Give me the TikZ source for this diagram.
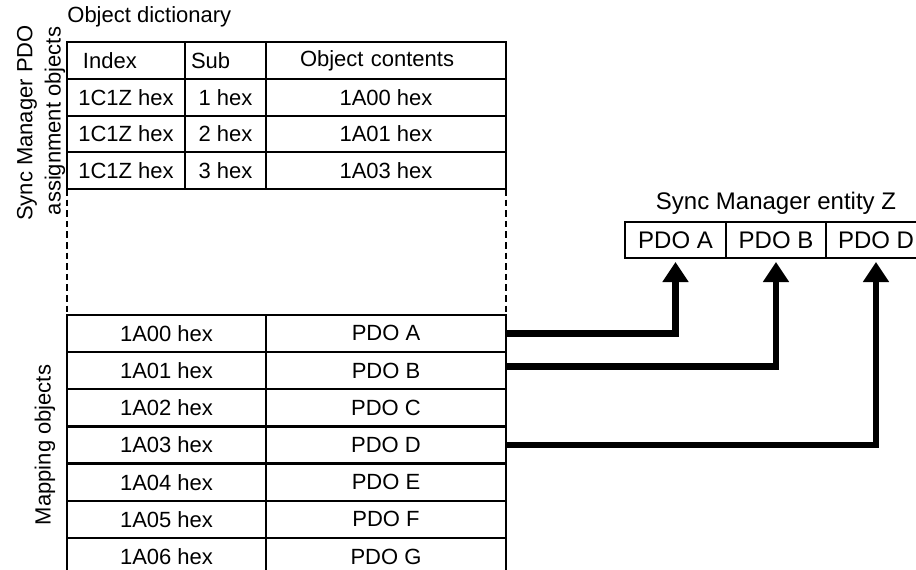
\documentclass[tikz,border=0pt]{standalone}
\usepackage{fontspec}
\setmainfont{Liberation Sans}
\usetikzlibrary{positioning, arrows.meta}

\begin{document}
\begin{tikzpicture}[x=0.5pt, y=-0.5pt,
    font=\fontsize{11}{13}\selectfont,
    cell/.style={draw, line width=1pt, inner sep=0pt, outer sep=0pt,
                 anchor=north west, minimum height=18.4pt},
    smcell/.style={cell, minimum height=18pt, font=\fontsize{12}{14}\selectfont},
    dashline/.style={line width=1pt, dash pattern=on 3.3pt off 2pt},
    pdoarrow/.style={line width=3.4pt, shorten >=2pt,
                     -{Triangle[width=12.5pt, length=10pt]}}]
        \useasboundingbox (0,0) rectangle (916,569);

        % Titles
        \node[anchor=west, inner sep=0pt] (title) at (67,17) {Object dictionary};
        \node[rotate=90] (asgA) at (27,123) {Sync Manager PDO};
        \node[rotate=90] (asgB) at (55,121) {assignment objects};
        \node[rotate=90] (maplabel) at (45,445) {Mapping objects};

        % Sync Manager PDO assignment objects
        \node[cell, minimum width=59pt, text width=43pt, align=left]   (idx0) at (67,42)  {Index};
        \node[cell, minimum width=40.5pt, text width=34.5pt, align=left] (sub0) at (185,42) {Sub};
        \node[cell, minimum width=120pt, text width=86pt, align=left]  (obj0) at (266,42) {Object contents};
        \node[cell, minimum width=59pt]   (idx1) at (67,78.75)  {1C1Z hex};
        \node[cell, minimum width=40.5pt] (sub1) at (185,78.75) {1 hex};
        \node[cell, minimum width=120pt]  (obj1) at (266,78.75) {1A00 hex};
        \node[cell, minimum width=59pt]   (idx2) at (67,115.5)  {1C1Z hex};
        \node[cell, minimum width=40.5pt] (sub2) at (185,115.5) {2 hex};
        \node[cell, minimum width=120pt]  (obj2) at (266,115.5) {1A01 hex};
        \node[cell, minimum width=59pt]   (idx3) at (67,152.25)  {1C1Z hex};
        \node[cell, minimum width=40.5pt] (sub3) at (185,152.25) {3 hex};
        \node[cell, minimum width=120pt]  (obj3) at (266,152.25) {1A03 hex};

        % Mapping objects
        \node[cell, minimum width=99.5pt] (mapA) at (67,315)   {1A00 hex};
        \node[cell, minimum width=120pt]  (pdoA) at (266,315)  {PDO A};
        \node[cell, minimum width=99.5pt] (mapB) at (67,352.2) {1A01 hex};
        \node[cell, minimum width=120pt]  (pdoB) at (266,352.2) {PDO B};
        \node[cell, minimum width=99.5pt] (mapC) at (67,389.4) {1A02 hex};
        \node[cell, minimum width=120pt]  (pdoC) at (266,389.4) {PDO C};
        \node[cell, minimum width=99.5pt] (mapD) at (67,426.6) {1A03 hex};
        \node[cell, minimum width=120pt]  (pdoD) at (266,426.6) {PDO D};
        \node[cell, minimum width=99.5pt] (mapE) at (67,463.8) {1A04 hex};
        \node[cell, minimum width=120pt]  (pdoE) at (266,463.8) {PDO E};
        \node[cell, minimum width=99.5pt] (mapF) at (67,501)   {1A05 hex};
        \node[cell, minimum width=120pt]  (pdoF) at (266,501)  {PDO F};
        \node[cell, minimum width=99.5pt] (mapG) at (67,538.2) {1A06 hex};
        \node[cell, minimum width=120pt]  (pdoG) at (266,538.2) {PDO G};

        % Gap between the two parts
        \draw[dashline] (idx3.south west) -- (mapA.north west);
        \draw[dashline] (obj3.south east) -- (pdoA.north east);

        % Sync Manager entity
        \node[smcell, minimum width=50.5pt] (smA) at (625,222) {PDO A};
        \node[smcell, minimum width=50pt]   (smB) at (726,222) {PDO B};
        \node[smcell, minimum width=50pt]   (smD) at (826,222) {PDO D};
        \node[above=0pt of smB, font=\fontsize{12}{14}\selectfont] (smlabel) {Sync Manager entity Z};

        % Assignment
        \draw[pdoarrow] (pdoA.east) -| (smA.south);
        \draw[pdoarrow] ([yshift=2pt]pdoB.east) -| (smB.south);
        \draw[pdoarrow] (pdoD.east) -| (smD.south);
\end{tikzpicture}
\end{document}
